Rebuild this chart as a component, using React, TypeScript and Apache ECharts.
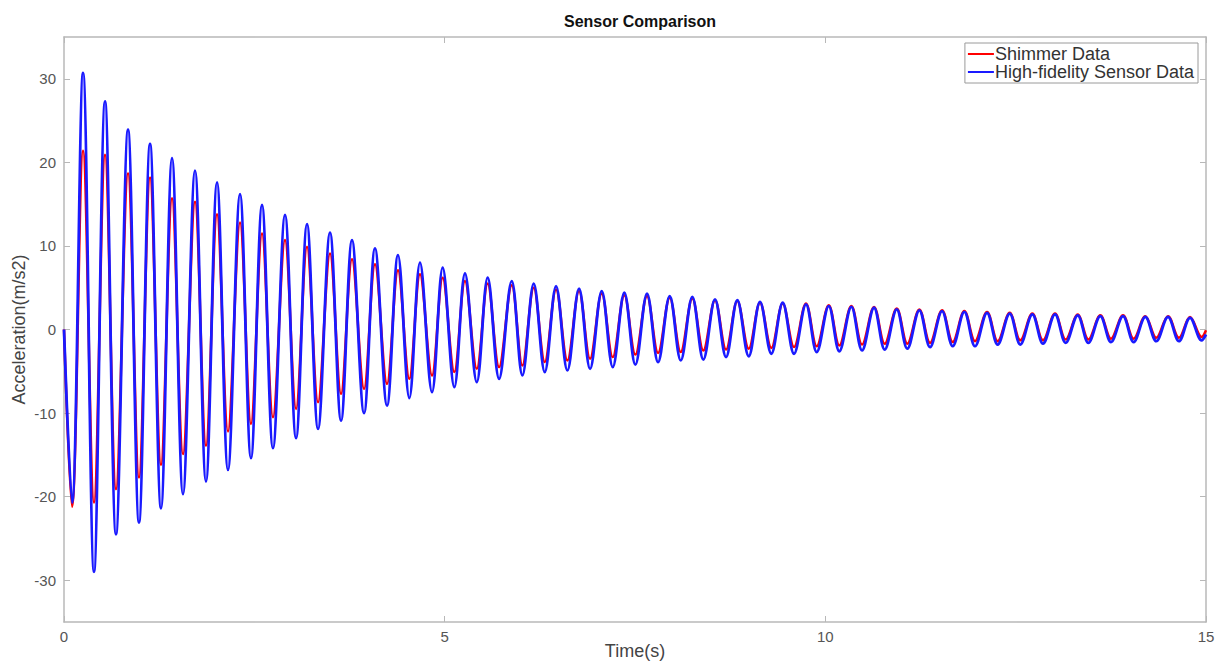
import React, { useEffect, useRef } from "react";
import * as echarts from "echarts";

const seriesNames = ["Shimmer Data", "High-fidelity Sensor Data"];

const troughTimes = [
  0.105, 0.394, 0.683, 0.985, 1.274, 1.563, 1.865, 2.154, 2.456, 2.745,
  3.048, 3.337, 3.639, 3.941, 4.243, 4.536, 4.834, 5.127, 5.422, 5.715,
  6.021, 6.315, 6.612, 6.91, 7.208, 7.505, 7.803, 8.101, 8.398, 8.696,
  8.994, 9.291, 9.589, 9.887, 10.184, 10.482, 10.78, 11.077, 11.375, 11.673,
  11.966, 12.264, 12.561, 12.859, 13.157, 13.455, 13.752, 14.05, 14.347, 14.645,
  14.943,
];

const peakTimes = [
  0.25, 0.539, 0.841, 1.13, 1.419, 1.721, 2.01, 2.312, 2.601, 2.903,
  3.192, 3.494, 3.783, 4.085, 4.387, 4.676, 4.974, 5.267, 5.565, 5.881,
  6.17, 6.463, 6.765, 7.063, 7.36, 7.658, 7.956, 8.253, 8.551, 8.844,
  9.142, 9.44, 9.746, 10.045, 10.342, 10.64, 10.938, 11.235, 11.533, 11.826,
  12.124, 12.422, 12.719, 13.017, 13.315, 13.612, 13.91, 14.203, 14.501, 14.79,
];

const shimmerTroughs = [
  -21.2, -20.7, -19.1, -17.7, -16.2, -14.9, -13.9, -12.2, -11.3, -10.5,
  -9.5, -8.7, -7.7, -7.1, -6.5, -5.9, -5.5, -5.1, -4.7, -4.5,
  -4.3, -3.9, -3.7, -3.5, -3.3, -3.0, -2.8, -2.7, -2.5, -2.4,
  -2.3, -2.2, -2.1, -2.0, -1.9, -1.8, -1.7, -1.7, -1.6, -1.5,
  -1.4, -1.4, -1.3, -1.3, -1.2, -1.2, -1.1, -1.1, -1.0, -1.0,
  -0.9,
];

const shimmerPeaks = [
  21.4, 20.9, 18.7, 18.2, 15.7, 15.3, 13.8, 12.8, 11.5, 10.7,
  9.9, 9.1, 8.4, 7.8, 7.1, 6.6, 6.2, 5.8, 5.5, 5.3,
  5.0, 4.8, 4.6, 4.3, 4.1, 4.0, 3.8, 3.7, 3.5, 3.4,
  3.2, 3.1, 3.1, 2.9, 2.8, 2.7, 2.5, 2.4, 2.3, 2.2,
  2.1, 2.0, 1.9, 1.9, 1.8, 1.7, 1.7, 1.6, 1.6, 1.5,
];

const sensorTroughs = [
  -20.7, -29.0, -24.5, -23.1, -21.4, -19.7, -18.2, -16.8, -15.4, -14.2,
  -13.0, -11.9, -10.9, -10.0, -9.1, -8.2, -7.5, -6.9, -6.3, -5.9,
  -5.5, -5.1, -4.9, -4.7, -4.5, -4.2, -3.9, -3.7, -3.6, -3.3,
  -3.2, -2.9, -2.9, -2.7, -2.6, -2.5, -2.4, -2.3, -2.1, -2.0,
  -2.0, -1.8, -1.8, -1.7, -1.6, -1.6, -1.5, -1.5, -1.4, -1.4,
  -1.3,
];

const sensorPeaks = [
  30.7, 27.3, 23.9, 22.2, 20.5, 19.0, 17.6, 16.2, 14.9, 13.7,
  12.6, 11.6, 10.7, 9.7, 8.9, 8.0, 7.4, 6.7, 6.2, 5.8,
  5.5, 5.2, 4.9, 4.6, 4.4, 4.3, 4.0, 3.9, 3.6, 3.5,
  3.3, 3.2, 3.0, 2.8, 2.7, 2.6, 2.4, 2.3, 2.2, 2.1,
  2.0, 1.9, 1.8, 1.8, 1.7, 1.6, 1.6, 1.5, 1.5, 1.4,
];

// start (t = 0) and end (t = 15) values
const shimmerEnds = [0, -0.1];
const sensorEnds = [0, -0.6];
const timeRange = [0, 15];

const yTicks = [-30, -20, -10, 0, 10, 20, 30];
const xTicks = [0, 5, 10, 15];

function buildSeries(troughs: number[], peaks: number[], ends: number[]) {
  const pts: [number, number][] = [[timeRange[0], ends[0]]];
  for (let i = 0; i < troughTimes.length; i++) {
    pts.push([troughTimes[i], troughs[i]]);
    if (i < peakTimes.length) pts.push([peakTimes[i], peaks[i]]);
  }
  pts.push([timeRange[1], ends[1]]);
  return pts;
}

export default function App() {
  const ref = useRef<HTMLDivElement>(null);
  useEffect(() => {
    if (!ref.current) return;
    const chart = echarts.init(ref.current, null, { renderer: "svg" });
    const font = "'Liberation Sans', Arial, Helvetica, sans-serif";
    const axisLineColor = "#b8b8b8";
    const labelColor = "#555";
    chart.setOption({
      animation: false,
      backgroundColor: "#ffffff",
      textStyle: { fontFamily: font },
      title: {
        text: "Sensor Comparison",
        left: 635,
        textAlign: "center",
        top: 8,
        textStyle: { fontSize: 16, fontWeight: "bold", color: "#111", fontFamily: font },
      },
      legend: {
        orient: "vertical",
        right: 21,
        top: 43,
        icon: "rect",
        itemWidth: 26,
        itemHeight: 2,
        itemGap: 0,
        padding: [2, 4, 2, 3],
        borderColor: "#9a9a9a",
        borderWidth: 1,
        borderRadius: 0,
        backgroundColor: "#fff",
        textStyle: { fontSize: 18, lineHeight: 18, color: "#333", padding: [0, 0, 0, -4], fontFamily: font },
        data: seriesNames,
      },
      grid: { left: 64, right: 13, top: 37, bottom: 40, containLabel: false, outerBoundsMode: "none" },
      xAxis: [
        {
          type: "value",
          min: 0,
          max: 15,
          interval: 5,
          name: "Time(s)",
          nameLocation: "middle",
          nameGap: 20,
          nameMoveOverlap: false,
          nameTextStyle: { fontSize: 18, color: "#444", fontFamily: font },
          axisLine: { onZero: false, lineStyle: { color: axisLineColor, width: 1.5 } },
          axisTick: { inside: true, length: 6, lineStyle: { color: axisLineColor }, customValues: xTicks },
          axisLabel: { color: labelColor, fontSize: 15, margin: 7, customValues: xTicks, fontFamily: font },
          splitLine: { show: false },
        },
        {
          type: "value",
          position: "top",
          min: 0,
          max: 15,
          interval: 5,
          axisLine: { onZero: false, lineStyle: { color: axisLineColor, width: 1.5 } },
          axisTick: { inside: true, length: 6, lineStyle: { color: axisLineColor } },
          axisLabel: { show: false },
          splitLine: { show: false },
        },
      ],
      yAxis: [
        {
          type: "value",
          min: -35,
          max: 35,
          interval: 5,
          name: "Acceleration(m/s2)",
          nameLocation: "middle",
          nameGap: 36,
          nameMoveOverlap: false,
          nameRotate: 90,
          nameTextStyle: { fontSize: 18, color: "#444", fontFamily: font },
          axisLine: { show: true, onZero: false, lineStyle: { color: axisLineColor, width: 1.5 } },
          axisTick: { show: true, inside: true, length: 6, lineStyle: { color: axisLineColor }, customValues: yTicks },
          axisLabel: { color: labelColor, fontSize: 15, margin: 8, customValues: yTicks, fontFamily: font },
          splitLine: { show: false },
        },
        {
          type: "value",
          position: "right",
          min: -35,
          max: 35,
          interval: 5,
          axisLine: { show: true, onZero: false, lineStyle: { color: axisLineColor, width: 1.5 } },
          axisTick: { show: true, inside: true, length: 6, lineStyle: { color: axisLineColor }, customValues: yTicks },
          axisLabel: { show: false },
          splitLine: { show: false },
        },
      ],
      series: [
        {
          name: seriesNames[0],
          type: "line",
          data: buildSeries(shimmerTroughs, shimmerPeaks, shimmerEnds),
          smooth: 0.36,
          symbol: "none",
          lineStyle: { color: "#ff0000", width: 2.5 },
          itemStyle: { color: "#ff0000" },
          z: 2,
        },
        {
          name: seriesNames[1],
          type: "line",
          data: buildSeries(sensorTroughs, sensorPeaks, sensorEnds),
          smooth: 0.36,
          symbol: "none",
          lineStyle: { color: "#1a1aff", width: 2.8 },
          itemStyle: { color: "#1a1aff" },
          z: 3,
        },
      ],
    });
    return () => chart.dispose();
  }, []);
  return (
    <div
      ref={ref}
      style={{ position: "fixed", left: 0, top: 0, width: 1219, height: 662, background: "#fff" }}
    />
  );
}
